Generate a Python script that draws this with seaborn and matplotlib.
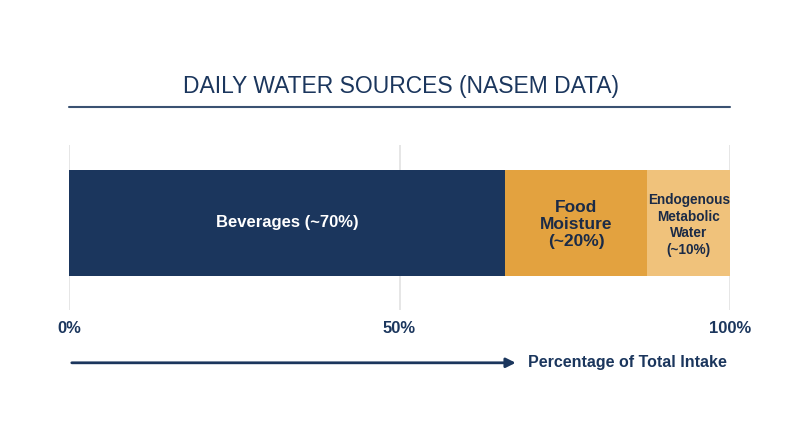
import matplotlib
matplotlib.use("Agg")
import matplotlib.pyplot as plt
import seaborn as sns
import pandas as pd
from matplotlib.lines import Line2D

# dados
sources = ["Beverages", "Food Moisture", "Endogenous Metabolic Water"]
shares = [66.0, 21.5, 12.5]
bar_labels = ["Beverages (~70%)", "Food\nMoisture\n(~20%)", "Endogenous\nMetabolic\nWater\n(~10%)"]
colors = ["#1b365d", "#e3a23f", "#f0c27b"]
label_colors = ["white", "#1b2b47", "#1b2b47"]
tick_values = [0, 50, 100]
tick_labels = ["0%", "50%", "100%"]

navy = "#1b365d"

sns.set_theme(style="white")
plt.rcParams['font.family'] = ['Liberation Sans', 'DejaVu Sans']

W, H = 800, 447
fig = plt.figure(figsize=(W / 100, H / 100), dpi=100)
ax = fig.add_axes([69 / W, 1 - 310 / H, 661 / W, 165 / H])

df = pd.DataFrame({"source": sources, "share": shares})
df["cum"] = df["share"].cumsum()
df["left"] = df["cum"] - df["share"]

# empilhamento: desenha os acumulados do maior para o menor
for i in reversed(range(len(df))):
    sns.barplot(x=[df["cum"].iloc[i]], y=["Total"], orient="h", color=colors[i],
                width=0.64, ax=ax, saturation=1, linewidth=0, zorder=2)

sizes = [12, 12.5, 9.8]
spacing = [1.0, 1.2, 1.25]
offsets = [0, 0.01, 0.012]
for i, row in df.iterrows():
    mid = row["left"] + row["share"] / 2
    ax.text(mid, offsets[i], bar_labels[i], ha="center", va="center", color=label_colors[i],
            fontsize=sizes[i], fontweight="bold", linespacing=spacing[i], zorder=3)

ax.set_xlim(0, 100)
ax.set_ylim(0.525, -0.47)
ax.set_xticks(tick_values)
ax.set_xticklabels(tick_labels, fontsize=12, fontweight="bold", color=navy)
ax.set_yticks([])
ax.set_xlabel("")
ax.set_ylabel("")
ax.tick_params(axis="x", length=0, pad=8)
for s in ax.spines.values():
    s.set_visible(False)
for v in tick_values:
    ax.axvline(v, color="#e2e2e2", linewidth=1.2, zorder=1)

# seta e rotulo do eixo
trans = ax.get_xaxis_transform()
ax.annotate("", xy=(68.0, -0.32), xytext=(0, -0.32), xycoords=trans, textcoords=trans,
            arrowprops=dict(arrowstyle="-|>", color=navy, lw=2, mutation_scale=14),
            annotation_clip=False)
ax.text(69.4, -0.32, "Percentage of Total Intake", transform=trans, ha="left", va="center",
        fontsize=11.5, fontweight="bold", color=navy, clip_on=False)

# titulo e linha
fig.text(401 / W, 1 - 86 / H, "DAILY WATER SOURCES (NASEM DATA)", ha="center", va="center",
         fontsize=16.5, color=navy, family=['Liberation Sans', 'DejaVu Sans'])
fig.add_artist(Line2D([69 / W, 730 / W], [1 - 106.5 / H] * 2, color="#3a5272", lw=1.5,
                      transform=fig.transFigure))

fig.savefig("out.png", dpi=100, facecolor="white")
